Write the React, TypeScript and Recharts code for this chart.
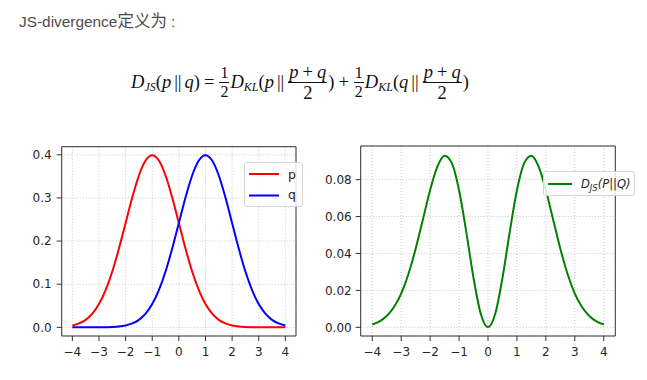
import React from "react";
import { LineChart, Line, XAxis, YAxis, CartesianGrid, ReferenceArea, Legend } from "recharts";

const xValues = [-4, -3.75, -3.5, -3.25, -3, -2.75, -2.5, -2.25, -2, -1.75, -1.5, -1.25, -1, -0.75, -0.5, -0.25, 0, 0.25, 0.5, 0.75, 1, 1.25, 1.5, 1.75, 2, 2.25, 2.5, 2.75, 3, 3.25, 3.5, 3.75, 4];
const pValues = [0.0044, 0.0091, 0.0175, 0.0317, 0.054, 0.0863, 0.1295, 0.1826, 0.242, 0.3011, 0.3521, 0.3867, 0.3989, 0.3867, 0.3521, 0.3011, 0.242, 0.1826, 0.1295, 0.0863, 0.054, 0.0317, 0.0175, 0.0091, 0.0044, 0.002, 0.0009, 0.0004, 0.0001, 0.0001, 0.0, 0.0, 0.0];
const qValues = [0.0, 0.0, 0.0, 0.0001, 0.0001, 0.0004, 0.0009, 0.002, 0.0044, 0.0091, 0.0175, 0.0317, 0.054, 0.0863, 0.1295, 0.1826, 0.242, 0.3011, 0.3521, 0.3867, 0.3989, 0.3867, 0.3521, 0.3011, 0.242, 0.1826, 0.1295, 0.0863, 0.054, 0.0317, 0.0175, 0.0091, 0.0044];
const jsValues = [0.0015, 0.0032, 0.0061, 0.011, 0.0183, 0.0289, 0.0426, 0.0584, 0.0744, 0.087, 0.0929, 0.0889, 0.0742, 0.0516, 0.0267, 0.0073, 0.0, 0.0073, 0.0267, 0.0516, 0.0742, 0.0889, 0.0929, 0.087, 0.0744, 0.0584, 0.0426, 0.0289, 0.0183, 0.011, 0.0061, 0.0032, 0.0015];

const xTicks = [-4, -3, -2, -1, 0, 1, 2, 3, 4];
const leftYTicks = [0, 0.1, 0.2, 0.3, 0.4];
const rightYTicks = [0, 0.02, 0.04, 0.06, 0.08];

const leftData = xValues.map((x, i) => ({ x, p: pValues[i], q: qValues[i] }));
const rightData = xValues.map((x, i) => ({ x, js: jsValues[i] }));

const X_DOMAIN: [number, number] = [-4.4, 4.4];
const LEFT_Y: [number, number] = [-0.02, 0.4188];
const RIGHT_Y: [number, number] = [-0.0047, 0.0982];

const tickFont = { fill: "#262626", fontSize: 12, fontFamily: '"DejaVu Sans", sans-serif' };
const fmtX = (v: number) => (v < 0 ? "\u2212" + Math.abs(v) : String(v));

const serif = '"Liberation Serif", "DejaVu Serif", serif';

const Frac = ({ num, den, size = 16 }: { num: React.ReactNode; den: React.ReactNode; size?: number }) => (
  <span
    style={{
      display: "inline-flex",
      flexDirection: "column",
      alignItems: "center",
      verticalAlign: "middle",
      fontSize: size,
      margin: "0 1px",
      position: "relative",
      top: -1,
    }}
  >
    <span style={{ borderBottom: "1px solid #111", padding: "0 1px", lineHeight: 1.12 }}>{num}</span>
    <span style={{ lineHeight: 1.12 }}>{den}</span>
  </span>
);

const I = ({ children }: { children: React.ReactNode }) => <i>{children}</i>;
const Sub = ({ children }: { children: React.ReactNode }) => (
  <sub style={{ fontSize: 12, fontStyle: "italic", verticalAlign: "-3px" }}>{children}</sub>
);
const Bars = () => <span style={{ margin: "0 3px" }}>||</span>;
const PlusQ = () => (
  <>
    <I>p</I>
    <span style={{ margin: "0 4px" }}>+</span>
    <I>q</I>
  </>
);

const legendBox: React.CSSProperties = {
  background: "rgba(255,255,255,0.85)",
  border: "1px solid #d6d6d6",
  borderRadius: 3,
  fontFamily: '"DejaVu Sans", sans-serif',
  fontSize: 12,
  color: "#262626",
  boxSizing: "border-box",
};

const LeftLegend = () => (
  <div style={{ ...legendBox, width: 59, height: 45, position: "relative" }}>
    <svg width={59} height={45} style={{ position: "absolute", left: 0, top: 0 }}>
      <line x1={4} x2={34} y1={11} y2={11} stroke="#ff0000" strokeWidth={2} />
      <line x1={4} x2={34} y1={32.5} y2={32.5} stroke="#0000ff" strokeWidth={2} />
      <text x={43} y={15.5} fontSize={12.5} fill="#262626" fontFamily='"DejaVu Sans", sans-serif'>p</text>
      <text x={43} y={36} fontSize={12.5} fill="#262626" fontFamily='"DejaVu Sans", sans-serif'>q</text>
    </svg>
  </div>
);

const RightLegend = () => (
  <div style={{ ...legendBox, width: 92, height: 25, position: "relative" }}>
    <svg width={92} height={25} style={{ position: "absolute", left: 0, top: 0 }}>
      <line x1={4} x2={28} y1={12} y2={12} stroke="#008000" strokeWidth={2} />
      <text x={37} y={16} fontSize={11.5} fill="#262626" fontStyle="italic" fontFamily='"DejaVu Sans", sans-serif'>
        D<tspan fontSize={8.5} dy={3}>JS</tspan>
        <tspan dy={-3}>(P||Q)</tspan>
      </text>
    </svg>
  </div>
);

export default function App() {
  return (
    <div style={{ position: "absolute", left: 0, top: 0, width: 647, height: 380, background: "#fff", overflow: "hidden" }}>
      <div
        style={{
          position: "absolute",
          left: 19,
          top: 9,
          color: "#4d4d4d",
          whiteSpace: "nowrap",
          lineHeight: "22px",
        }}
      >
        <span style={{ fontFamily: '"Liberation Sans", Arial, sans-serif', fontSize: 15.4 }}>JS-divergence</span>
        <span style={{ fontFamily: '"Noto Sans CJK SC", sans-serif', fontSize: 16.5 }}>定义为</span>
        <span style={{ fontFamily: '"Liberation Sans", Arial, sans-serif', fontSize: 15.4, marginLeft: 4 }}>:</span>
      </div>

      <div
        style={{
          position: "absolute",
          left: 131,
          top: 60,
          fontFamily: serif,
          fontSize: 18.5,
          color: "#111",
          whiteSpace: "nowrap",
          lineHeight: "44px",
        }}
      >
        <I>D</I>
        <Sub>JS</Sub>
        <span>(</span>
        <I>p</I>
        <Bars />
        <I>q</I>
        <span>)</span>
        <span style={{ margin: "0 4px" }}>=</span>
        <Frac num="1" den="2" />
        <I>D</I>
        <Sub>KL</Sub>
        <span>(</span>
        <I>p</I>
        <Bars />
        <Frac num={<PlusQ />} den="2" size={18.5} />
        <span>)</span>
        <span style={{ margin: "0 4px" }}>+</span>
        <Frac num="1" den="2" />
        <I>D</I>
        <Sub>KL</Sub>
        <span>(</span>
        <I>q</I>
        <Bars />
        <Frac num={<PlusQ />} den="2" size={18.5} />
        <span>)</span>
      </div>

      <div style={{ position: "absolute", left: 20, top: 140 }}>
        <LineChart width={320} height={235} data={leftData} margin={{ top: 6.7, right: 44, bottom: 0, left: 0 }}>
          <CartesianGrid stroke="#c4c4c4" strokeDasharray="1 2" />
          <XAxis
            dataKey="x"
            type="number"
            domain={X_DOMAIN}
            ticks={xTicks}
            allowDataOverflow
            height={39}
            tickFormatter={fmtX}
            tick={tickFont}
            tickSize={5}
            tickMargin={6}
            axisLine={false}
            tickLine={{ stroke: "#333" }}
            interval={0}
          />
          <YAxis
            type="number"
            domain={LEFT_Y}
            ticks={leftYTicks}
            allowDataOverflow
            width={41.7}
            tickFormatter={(v: number) => v.toFixed(1)}
            tick={tickFont}
            tickSize={5}
            tickMargin={5}
            axisLine={false}
            tickLine={{ stroke: "#333" }}
            interval={0}
          />
          <ReferenceArea x1={X_DOMAIN[0]} x2={X_DOMAIN[1]} y1={LEFT_Y[0]} y2={LEFT_Y[1]} fill="none" stroke="#333" strokeWidth={1} ifOverflow="visible" />
          <Line type="monotone" dataKey="p" stroke="#ff0000" strokeWidth={2} dot={false} isAnimationActive={false} />
          <Line type="monotone" dataKey="q" stroke="#0000ff" strokeWidth={2} dot={false} isAnimationActive={false} />
          <Legend
            layout="horizontal"
            verticalAlign="middle"
            align="center"
            content={() => <LeftLegend />}
            wrapperStyle={{ position: "absolute", left: 224, top: 21.7, width: "auto", margin: 0 }}
          />
        </LineChart>
      </div>

      <div style={{ position: "absolute", left: 320, top: 140 }}>
        <LineChart width={320} height={235} data={rightData} margin={{ top: 6, right: 24.7, bottom: 0, left: 0 }}>
          <CartesianGrid stroke="#c4c4c4" strokeDasharray="1 2" />
          <XAxis
            dataKey="x"
            type="number"
            domain={X_DOMAIN}
            ticks={xTicks}
            allowDataOverflow
            height={39}
            tickFormatter={fmtX}
            tick={tickFont}
            tickSize={5}
            tickMargin={6}
            axisLine={false}
            tickLine={{ stroke: "#333" }}
            interval={0}
          />
          <YAxis
            type="number"
            domain={RIGHT_Y}
            ticks={rightYTicks}
            allowDataOverflow
            width={40.7}
            tickFormatter={(v: number) => v.toFixed(2)}
            tick={tickFont}
            tickSize={5}
            tickMargin={4}
            axisLine={false}
            tickLine={{ stroke: "#333" }}
            interval={0}
          />
          <ReferenceArea x1={X_DOMAIN[0]} x2={X_DOMAIN[1]} y1={RIGHT_Y[0]} y2={RIGHT_Y[1]} fill="none" stroke="#333" strokeWidth={1} ifOverflow="visible" />
          <Line type="monotone" dataKey="js" stroke="#008000" strokeWidth={2} dot={false} isAnimationActive={false} />
          <Legend
            layout="horizontal"
            verticalAlign="middle"
            align="center"
            content={() => <RightLegend />}
            wrapperStyle={{ position: "absolute", left: 222.7, top: 31, width: "auto", margin: 0 }}
          />
        </LineChart>
      </div>
    </div>
  );
}
